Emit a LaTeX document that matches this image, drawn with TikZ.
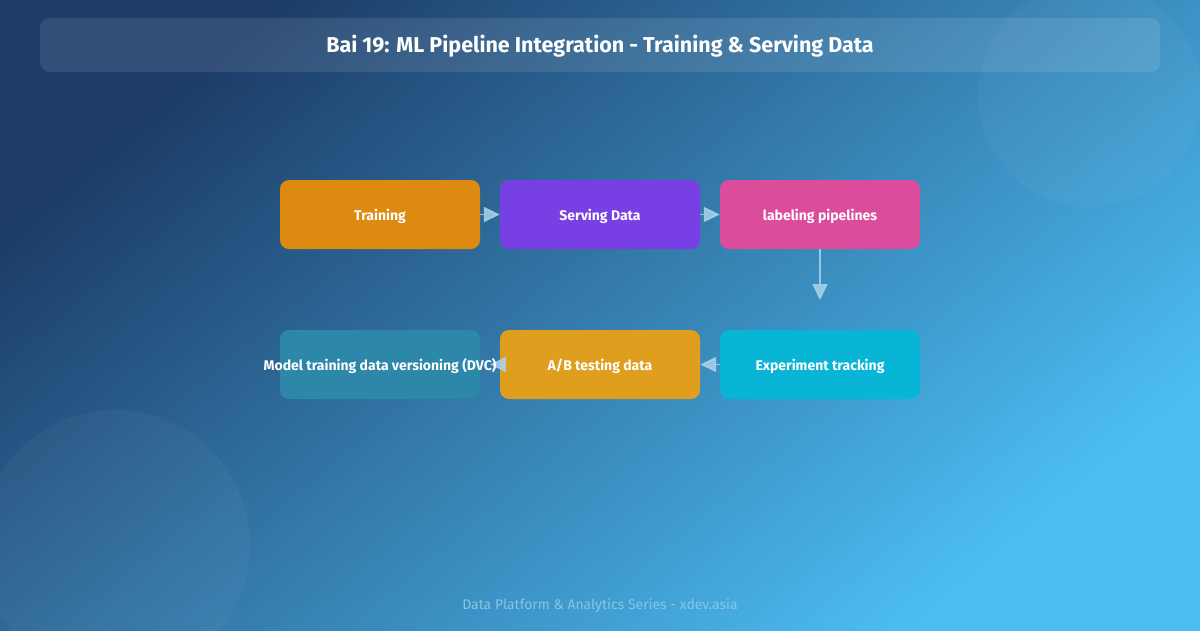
\documentclass[tikz,border=0pt]{standalone}
\usepackage{fontspec}
\setmainfont{Fira Sans}
\usetikzlibrary{arrows.meta}
\definecolor{bgA}{HTML}{1D3C68}
\definecolor{bgB}{HTML}{4CBEF3}
\definecolor{cTrain}{HTML}{DC8B10}
\definecolor{cServe}{HTML}{783FE4}
\definecolor{cLabel}{HTML}{DB4D9C}
\definecolor{cAB}{HTML}{E09E1F}
\definecolor{cExp}{HTML}{08B5D6}
\definecolor{cModel}{HTML}{2C87A8}
\definecolor{cArrow}{HTML}{A9D2EA}
\definecolor{cFoot}{HTML}{86C6E6}
\tikzset{
  stepbox/.style={rounded corners=9pt, minimum width=200pt, minimum height=69pt,
    inner sep=0pt, text=white, text height=13pt, text depth=2pt,
    font=\bfseries\fontsize{14}{16}\selectfont},
  flow/.style={draw=cArrow, line width=1.6pt, -{Triangle[length=16pt,width=15pt]}, opacity=0.85}
}
\begin{document}
\begin{tikzpicture}[x=1pt,y=-1pt]
\useasboundingbox (0,0) rectangle (1200,630);
\shade[top color=bgA, bottom color=bgB, shading angle=40] (0,0) rectangle (1200,630);
\fill[white, opacity=0.03] (1090,95) circle (112);
\fill[white, opacity=0.035] (115,545) circle (135);
\fill[white, opacity=0.10, rounded corners=10pt] (40,18) rectangle (1160,72);
\node[text=white, font=\bfseries\fontsize{21.5}{24}\selectfont] (title) at (600,46) {Bai 19: ML Pipeline Integration - Training \& Serving Data};
\node[stepbox, fill=cTrain] (train) at (380,214.5) {Training};
\node[stepbox, fill=cServe] (serve) at (600,214.5) {Serving Data};
\node[stepbox, fill=cLabel] (label) at (820,214.5) {labeling pipelines};
\node[stepbox, fill=cExp] (exp) at (820,364.5) {Experiment tracking};
\node[stepbox, fill=cAB] (ab) at (600,364.5) {A/B testing data};
\node[stepbox, fill=cModel] (model) at (380,364.5) {};
\coordinate (vend) at (820,300);
\coordinate (mend) at (490,364.5);
\draw[flow] (train.east) -- (serve.west);
\draw[flow] (serve.east) -- (label.west);
\draw[flow] (label.south) -- (vend);
\draw[flow] (exp.west) -- (ab.east);
\draw[flow] (ab.west) -- (mend);
\node[text=white, inner sep=0pt, text height=13pt, text depth=2pt, font=\bfseries\fontsize{14}{16}\selectfont] (modeltext) at (380,364.5) {Model training data versioning (DVC)};
\node[text=cFoot, font=\fontsize{14}{16}\selectfont] (foot) at (600,606) {Data Platform \& Analytics Series - xdev.asia};
\end{tikzpicture}
\end{document}
